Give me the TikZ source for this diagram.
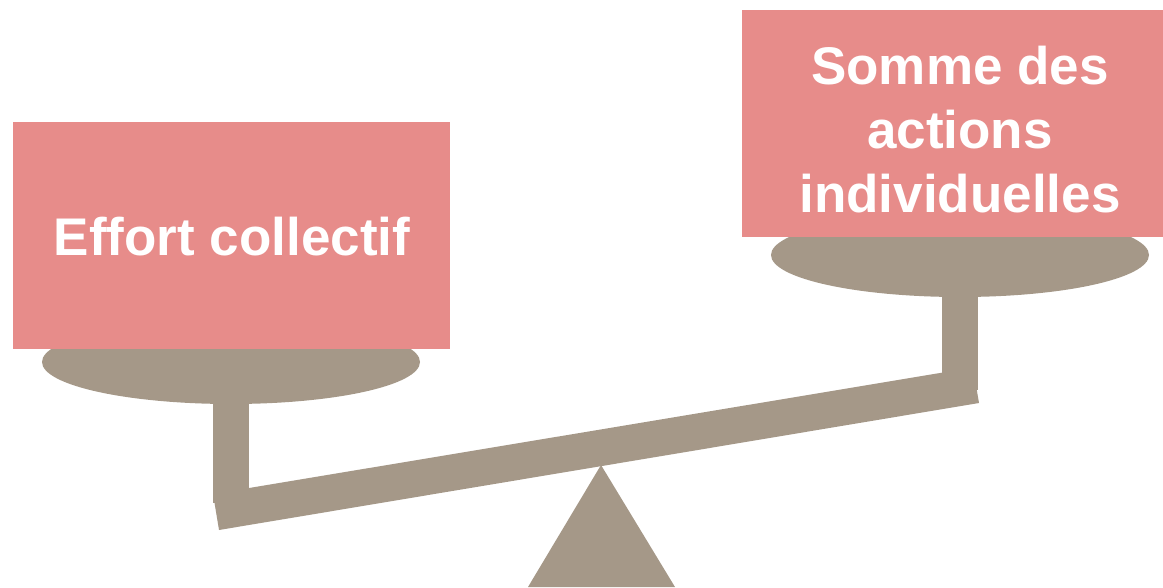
\documentclass[tikz,border=0pt]{standalone}
\usepackage{fontspec}
\setmainfont{Liberation Sans}
\usetikzlibrary{shapes.geometric}
\definecolor{boxpink}{HTML}{E78C8A}
\definecolor{scalegray}{HTML}{A59888}
\tikzset{
  card/.style={fill=boxpink, draw=none, inner sep=0pt},
  pan/.style={ellipse, fill=scalegray, draw=none, inner sep=0pt, minimum width=378pt, minimum height=84pt},
  post/.style={fill=scalegray, draw=none},
  lbl/.style={text=white, font=\fontsize{53}{64}\selectfont\bfseries, align=center, inner sep=0pt},
}
\begin{document}
\begin{tikzpicture}[x=1pt,y=-1pt]
\useasboundingbox (0,0) rectangle (1163,587);
% fulcrum
\coordinate (apex) at (601,465);
\coordinate (bl) at (528,587);
\coordinate (br) at (675,587);
\fill[post] (apex) -- (bl) -- (br) -- cycle;
% beam
\coordinate (b1) at (219,530);
\coordinate (b2) at (979,403);
\coordinate (b3) at (973,367.5);
\coordinate (b4) at (213,494);
\fill[post] (b1) -- (b2) -- (b3) -- (b4) -- cycle;
% posts
\fill[post] (213,362) rectangle (249,503);
\fill[post] (942,255) rectangle (978,390);
% pans
\node[pan] (lpan) at (231,362) {};
\node[pan] (rpan) at (960,255) {};
% boxes
\node[card, minimum width=437pt, minimum height=227pt] (lbox) at (231.5,235.5) {};
\node[card, minimum width=421pt, minimum height=227pt] (rbox) at (952.5,123.5) {};
\node[lbl] (ltxt) at (232,237) {Effort collectif};
\node[lbl] (rtxt) at (960,129.5) {Somme des\\actions\\individuelles};
\end{tikzpicture}
\end{document}
